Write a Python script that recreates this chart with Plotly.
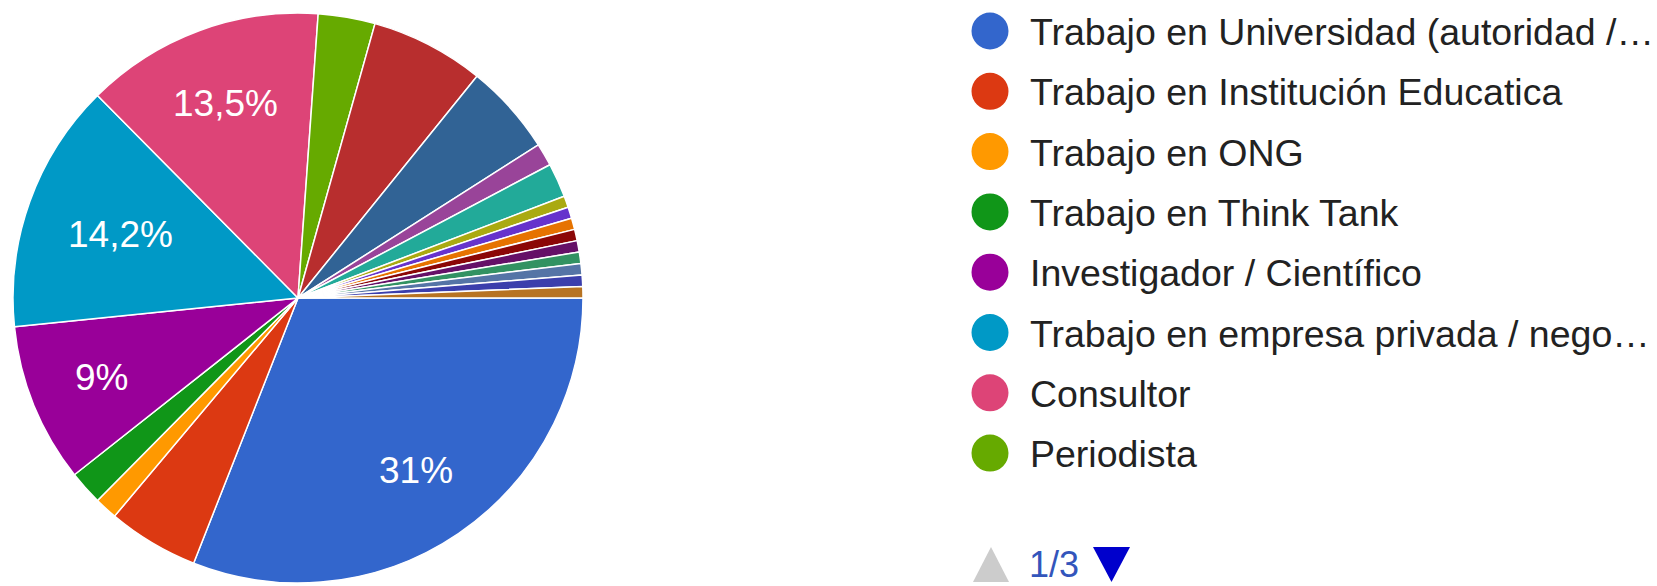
import math
import plotly.graph_objects as go

# ---------------- data ----------------
categories = [
    "Trabajo en Universidad (autoridad /…",
    "Trabajo en Institución Educatica",
    "Trabajo en ONG",
    "Trabajo en Think Tank",
    "Investigador / Científico",
    "Trabajo en empresa privada / nego…",
    "Consultor",
    "Periodista",
    "Otra ocupación 9",
    "Otra ocupación 10",
    "Otra ocupación 11",
    "Otra ocupación 12",
    "Otra ocupación 13",
    "Otra ocupación 14",
    "Otra ocupación 15",
    "Otra ocupación 16",
    "Otra ocupación 17",
    "Otra ocupación 18",
    "Otra ocupación 19",
    "Otra ocupación 20",
    "Otra ocupación 21",
]
counts = [48, 8, 2, 3, 14, 22, 21, 5, 10, 8, 2, 3, 1, 1, 1, 1, 1, 1, 1, 1, 1]
colors = [
    "#3366cc", "#dc3912", "#ff9900", "#109618", "#990099", "#0099c6",
    "#dd4477", "#66aa00", "#b82e2e", "#316395", "#994499", "#22aa99",
    "#aaaa11", "#6633cc", "#e67300", "#8b0707", "#651067", "#329262",
    "#5574a6", "#3b3eac", "#b77322",
]
items_per_page = 8
current_page = 1

# ---------------- helpers ----------------
W, H = 1657, 586
FONT = "Liberation Sans, Arial, sans-serif"


def px(x):
    return x / W


def py(y):
    return 1 - y / H


total = sum(counts)


def pct_label(v):
    p = v / total * 100
    if p < 8:
        return ""
    s = f"{p:.1f}"
    if s.endswith(".0"):
        s = s[:-2]
    return s.replace(".", ",") + "%"


texts = [pct_label(v) for v in counts]

# pie geometry (pixels)
cx, cy, r = 298, 298, 285
label_size = 37

fig = go.Figure()
fig.add_trace(go.Pie(
    labels=categories,
    values=counts,
    sort=False,
    direction="clockwise",
    rotation=90,
    marker=dict(colors=colors, line=dict(color="white", width=1.5)),
    textinfo="none",
    hoverinfo="label+value+percent",
    showlegend=False,
    domain=dict(x=[px(cx - r), px(cx + r)], y=[py(cy + r), py(cy - r)]),
))

# ---------------- slice labels (Google-style placement) ----------------
CHAR_W = {"%": 0.889, ",": 0.278}
annotations = []
shapes = []
cum = 0.0
for v, t in zip(counts, texts):
    a0 = cum / total * 2 * math.pi
    cum += v
    a1 = cum / total * 2 * math.pi
    if not t:
        continue
    mid = (a0 + a1) / 2  # clockwise from 3 o'clock (screen y down)
    c, s = math.cos(mid), math.sin(mid)
    w = sum(CHAR_W.get(ch, 0.556) for ch in t) * label_size
    h = 0.72 * label_size
    R = 0.85 * r
    b = abs(c) * w / 2 + abs(s) * h / 2
    cc = (w / 2) ** 2 + (h / 2) ** 2
    d = -b + math.sqrt(b * b - cc + R * R)
    lx, ly = cx + d * c, cy + d * s
    annotations.append(dict(
        xref="paper", yref="paper", x=px(lx), y=py(ly),
        xanchor="center", yanchor="middle", showarrow=False,
        text=t, font=dict(size=label_size, color="white", family=FONT),
    ))

# ---------------- legend (page 1) ----------------
leg_x_circle = 990
leg_x_text = 1028
leg_y0 = 31
leg_dy = 60.3
dia = 37
start = (current_page - 1) * items_per_page
page_items = list(zip(categories, colors))[start: start + items_per_page]
for i, (name, col) in enumerate(page_items):
    yc = leg_y0 + i * leg_dy
    shapes.append(dict(
        type="circle", xref="paper", yref="paper",
        x0=px(leg_x_circle - dia / 2), x1=px(leg_x_circle + dia / 2),
        y0=py(yc + dia / 2), y1=py(yc - dia / 2),
        fillcolor=col, line=dict(width=0),
    ))
    annotations.append(dict(
        xref="paper", yref="paper", x=px(leg_x_text), y=py(yc + 1),
        xanchor="left", yanchor="middle", showarrow=False,
        text=name, font=dict(size=37.5, color="#222222", family=FONT),
    ))

# pager
n_pages = math.ceil(len(categories) / items_per_page)
pg_y = 564
shapes.append(dict(
    type="path", xref="paper", yref="paper",
    path=f"M {px(973)} {py(582)} L {px(1009)} {py(582)} L {px(991)} {py(547)} Z",
    fillcolor="#cccccc", line=dict(width=0),
))
shapes.append(dict(
    type="path", xref="paper", yref="paper",
    path=f"M {px(1093)} {py(547)} L {px(1130)} {py(547)} L {px(1111.5)} {py(582)} Z",
    fillcolor="#0000cc", line=dict(width=0),
))
annotations.append(dict(
    xref="paper", yref="paper", x=px(1027), y=py(pg_y),
    xanchor="left", yanchor="middle", showarrow=False,
    text=f"{current_page}/{n_pages}",
    font=dict(size=36, color="#3355bb", family=FONT),
))

fig.update_layout(
    width=W, height=H,
    margin=dict(l=0, r=0, t=0, b=0),
    paper_bgcolor="white", plot_bgcolor="white",
    shapes=shapes, annotations=annotations,
    font=dict(family=FONT),
)

fig.write_html(
    "out.html",
    config={"displayModeBar": False},
    post_script="document.body.style.margin='0';document.body.style.padding='0';document.body.style.overflow='hidden';",
)
